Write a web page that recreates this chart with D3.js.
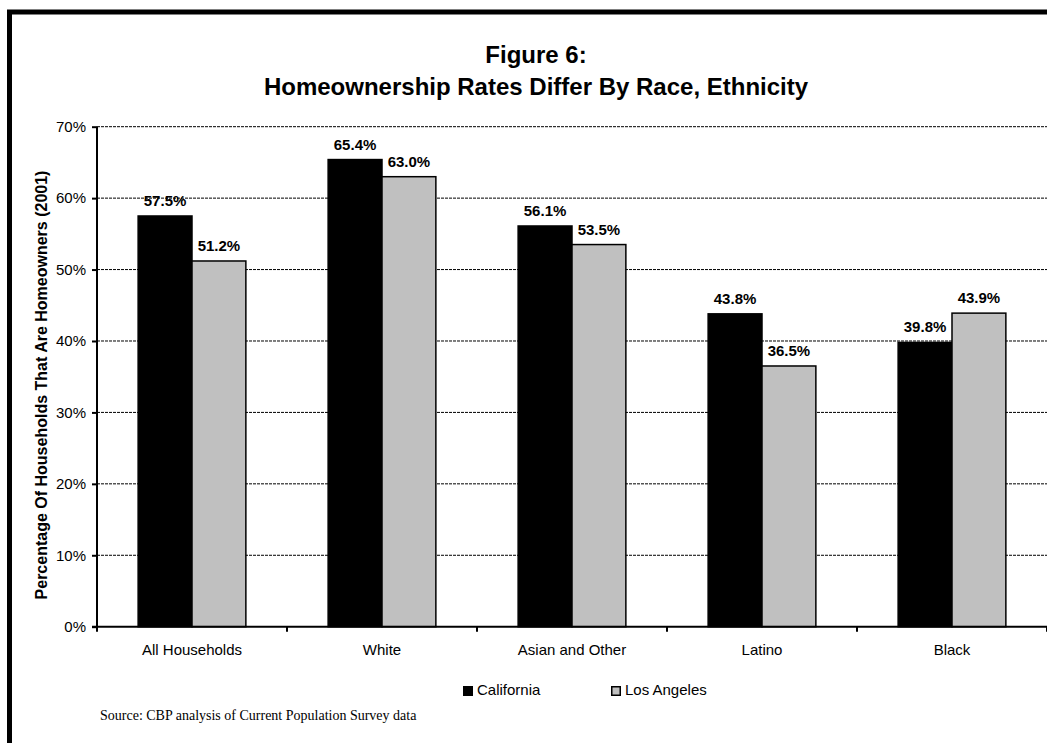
<!DOCTYPE html>
<html>
<head>
<meta charset="utf-8">
<script src="https://cdn.jsdelivr.net/npm/d3@7"></script>
<style>
  html, body { margin: 0; padding: 0; background: #fff; }
  svg { display: block; }
  text { font-family: Arial, "Liberation Sans", sans-serif; fill: #000; }
</style>
</head>
<body>
<script>
const categories = ["All Households", "White", "Asian and Other", "Latino", "Black"];
const seriesNames = ["California", "Los Angeles"];
const california = [57.5, 65.4, 56.1, 43.8, 39.8];
const losAngeles = [51.2, 63.0, 53.5, 36.5, 43.9];
const seriesColors = ["#000000", "#c0c0c0"];
const yTicks = [0, 10, 20, 30, 40, 50, 60, 70];
const titleLines = ["Figure 6:", "Homeownership Rates Differ By Race, Ethnicity"];
const yTitle = "Percentage Of Households That Are Homeowners (2001)";
const sourceText = "Source: CBP analysis of Current Population Survey data";

const W = 1047, H = 743;
const svg = d3.select("body").append("svg").attr("width", W).attr("height", H);

// outer frame (right/bottom edges fall outside the picture)
svg.append("rect").attr("x", 9.5).attr("y", 12).attr("width", 2000).attr("height", 2000)
  .attr("fill", "none").attr("stroke", "#000").attr("stroke-width", 5);

const plot = { left: 97, right: 1047, top: 126.7, bottom: 626.7 };
const x = d3.scaleBand().domain(categories).range([plot.left, plot.right]).padding(0);
const y = d3.scaleLinear().domain([0, 70]).range([plot.bottom, plot.top]);
const groupW = x.bandwidth() * 0.567;
const xs = d3.scaleBand().domain(seriesNames).range([0, groupW]).padding(0);

// gridlines
svg.append("g").selectAll("line").data(yTicks.filter(d => d > 0)).join("line")
  .attr("x1", plot.left).attr("x2", plot.right)
  .attr("y1", d => y(d)).attr("y2", d => y(d))
  .attr("stroke", "#000").attr("stroke-width", 1).attr("stroke-dasharray", "3,1");

// bars
const data = [];
categories.forEach((c, i) => {
  data.push({ cat: c, s: seriesNames[0], v: california[i], color: seriesColors[0] });
  data.push({ cat: c, s: seriesNames[1], v: losAngeles[i], color: seriesColors[1] });
});
const bx = d => x(d.cat) + (x.bandwidth() - groupW) / 2 + xs(d.s);
svg.append("g").selectAll("rect").data(data).join("rect")
  .attr("x", bx).attr("width", xs.bandwidth())
  .attr("y", d => y(d.v)).attr("height", d => y(0) - y(d.v))
  .attr("fill", d => d.color).attr("stroke", "#000").attr("stroke-width", 1.5);

// value labels
svg.append("g").selectAll("text").data(data).join("text")
  .attr("x", d => bx(d) + xs.bandwidth() / 2).attr("y", d => y(d.v) - 10)
  .attr("text-anchor", "middle").attr("font-size", 15).attr("font-weight", "bold")
  .text(d => d.v.toFixed(1) + "%");

// y axis
const yAxis = d3.axisLeft(y).tickValues(yTicks).tickFormat(d => d + "%").tickSize(5).tickPadding(6);
const gy = svg.append("g").attr("transform", `translate(${plot.left},0)`).call(yAxis);
gy.select(".domain").attr("stroke", "#000").attr("stroke-width", 2).attr("d", `M0,${plot.top}V${plot.bottom}`);
gy.selectAll(".tick line").attr("stroke", "#000").attr("stroke-width", 2);
gy.selectAll(".tick text").attr("font-size", 15).attr("font-family", "Arial, 'Liberation Sans', sans-serif").attr("fill", "#000");

// x axis
const boundaries = categories.map(c => x(c)).concat([plot.right]);
svg.append("line").attr("x1", plot.left - 5).attr("x2", plot.right)
  .attr("y1", plot.bottom).attr("y2", plot.bottom).attr("stroke", "#000").attr("stroke-width", 2);
svg.append("g").selectAll("line").data(boundaries).join("line")
  .attr("x1", d => d).attr("x2", d => d).attr("y1", plot.bottom).attr("y2", plot.bottom + 5)
  .attr("stroke", "#000").attr("stroke-width", 2);
svg.append("g").selectAll("text").data(categories).join("text")
  .attr("x", d => x(d) + x.bandwidth() / 2).attr("y", plot.bottom + 28.5)
  .attr("text-anchor", "middle").attr("font-size", 15).text(d => d);

// title
svg.append("g").selectAll("text").data(titleLines).join("text")
  .attr("x", 536).attr("y", (d, i) => 63 + i * 32)
  .attr("text-anchor", "middle").attr("font-size", 24).attr("font-weight", "bold").text(d => d);

// y title
svg.append("text").attr("transform", "translate(47,385) rotate(-90)")
  .attr("text-anchor", "middle").attr("font-size", 16).attr("font-weight", "bold").text(yTitle);

// legend
const legendItems = [
  { name: seriesNames[0], color: seriesColors[0], x: 463 },
  { name: seriesNames[1], color: seriesColors[1], x: 611 }
];
const lg = svg.append("g").selectAll("g").data(legendItems).join("g")
  .attr("transform", d => `translate(${d.x},686)`);
lg.append("rect").attr("x", 0.75).attr("y", 0.75).attr("width", 8.5).attr("height", 8.5)
  .attr("fill", d => d.color).attr("stroke", "#000").attr("stroke-width", 1.5);
lg.append("text").attr("x", 14).attr("y", 9).attr("font-size", 15).text(d => d.name);

// source
svg.append("text").attr("x", 100).attr("y", 720)
  .style("font-family", "'Liberation Serif', 'Times New Roman', serif").attr("font-size", 14)
  .text(sourceText);
</script>
</body>
</html>
